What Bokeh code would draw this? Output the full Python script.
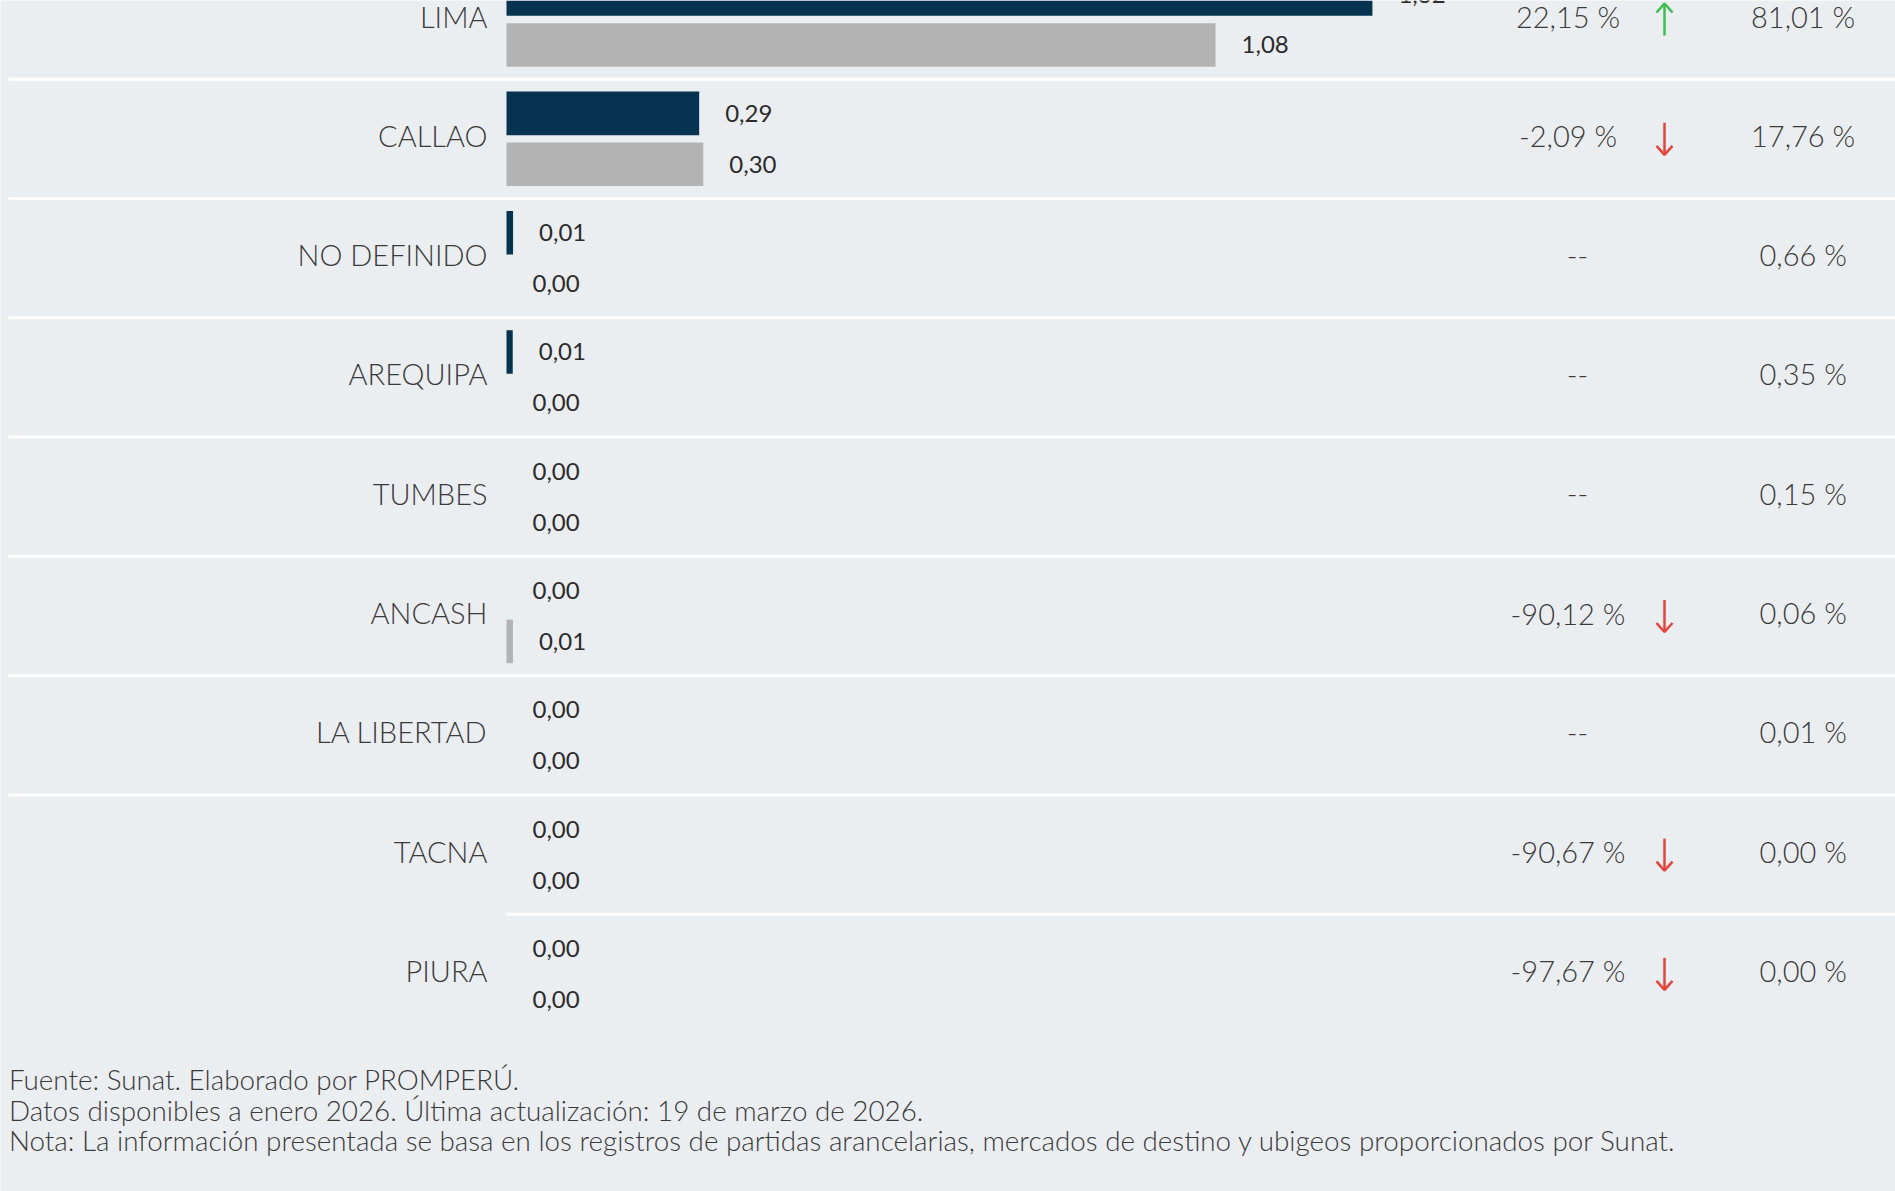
from bokeh.plotting import figure
from bokeh.models import Range1d, ColumnDataSource
from bokeh.transform import dodge
from bokeh.core.properties import value
from bokeh.embed import file_html
from bokeh.resources import INLINE

# ---------------- data ----------------
regions = ["LIMA", "CALLAO", "NO DEFINIDO", "AREQUIPA", "TUMBES",
           "ANCASH", "LA LIBERTAD", "TACNA", "PIURA"]
exports_2026 = [1.319, 0.2935, 0.0100, 0.0095, 0.0, 0.0, 0.0, 0.0, 0.0]
exports_2025 = [1.080, 0.2998, 0.0, 0.0, 0.0, 0.0098, 0.0, 0.0, 0.0]
growth_pct = [22.15, -2.09, None, None, None, -90.12, None, -90.67, -97.67]
share_pct = [81.01, 17.76, 0.66, 0.35, 0.15, 0.06, 0.01, 0.00, 0.00]
footer_lines = [
    "Fuente: Sunat. Elaborado por PROMPERÚ.",
    "Datos disponibles a enero 2026. Última actualización: 19 de marzo de 2026.",
    "Nota: La información presentada se basa en los registros de partidas arancelarias, mercados de destino y ubigeos proporcionados por Sunat.",
]

# ---------------- layout constants ----------------
W, H = 1895, 1191
PX_X = 656.5          # pixels per unit of value
ROW_PX = 119.3        # pixels per row
BAR_X0 = 506.0        # pixel position of value 0
ROW0_CENTER = 19.0    # pixel y of first row centre (page is scrolled)

BG = "#EBEEF1"
DARK = "#06334F"
GRAY = "#B3B3B3"
TXT = "#3a3a3a"
GREEN = "#3cbf4e"
RED = "#e5443b"
FONT_LIGHT = value("Lato Light")
FONT_REG = value("Lato")


def dx(px):
    return px / PX_X


def xpx(px):
    return (px - BAR_X0) / PX_X


def ypx(px):
    return (px - ROW0_CENTER) / ROW_PX


def fmt2(v):
    return f"{v:.2f}".replace(".", ",")


x_start = xpx(0)
x_end = xpx(W)
y_top = ypx(0)
y_bottom = ypx(H)

p = figure(width=W, height=H, x_range=Range1d(x_start, x_end),
           y_range=Range1d(y_bottom, y_top),
           output_backend="svg", toolbar_location=None,
           x_axis_type=None, y_axis_type=None, min_border=0)
p.grid.visible = False
p.outline_line_color = None
p.background_fill_color = BG
p.border_fill_color = BG

n = len(regions)
idx = list(range(n))

GROWTH_X = xpx(1567.5)
DASH_X = xpx(1577)

src = ColumnDataSource(dict(
    idx=idx,
    region=regions,
    v26=exports_2026,
    v25=exports_2025,
    l26=[fmt2(v) for v in exports_2026],
    l25=[fmt2(v) for v in exports_2025],
    growth=["--" if g is None else f"{g:.2f} %".replace(".", ",") for g in growth_pct],
    gx=[DASH_X if g is None else GROWTH_X for g in growth_pct],
    share=[f"{s:.2f} %".replace(".", ",") for s in share_pct],
))

OFF = 0.213
BAR_H = 0.365

# row separators
sep_y = [i + 0.5 for i in range(n - 1)]
sep_x0 = [xpx(8)] * (n - 2) + [0.0]
p.segment(x0=sep_x0, x1=[x_end] * len(sep_y), y0=sep_y, y1=sep_y,
          line_color="white", line_width=3)

# bars
p.hbar(y=dodge("idx", -OFF), left=0, right="v26", height=BAR_H,
       fill_color=DARK, line_color=None, source=src)
p.hbar(y=dodge("idx", OFF), left=0, right="v25", height=BAR_H,
       fill_color=GRAY, line_color=None, source=src)

# value labels
p.text(x="v26", y=dodge("idx", -OFF), text="l26", x_offset=26,
       text_baseline="middle", text_align="left", text_font=FONT_REG,
       text_font_size="24px", text_color="#2b2b2b", source=src)
p.text(x="v25", y=dodge("idx", OFF), text="l25", x_offset=26,
       text_baseline="middle", text_align="left", text_font=FONT_REG,
       text_font_size="24px", text_color="#2b2b2b", source=src)

# category labels
p.text(x=0, y="idx", text="region", x_offset=-19, y_offset=-3.5,
       text_baseline="middle", text_align="right", text_font=FONT_LIGHT,
       text_font_size="29px", text_color=TXT, source=src)

# growth column
p.text(x="gx", y="idx", text="growth", y_offset=-3,
       text_baseline="middle", text_align="center", text_font=FONT_LIGHT,
       text_font_size="29px", text_color=TXT, source=src)

# share column
p.text(x=xpx(1802.6), y="idx", text="share", y_offset=-3.5,
       text_baseline="middle", text_align="center", text_font=FONT_LIGHT,
       text_font_size="29px", text_color=TXT, source=src)

# arrows
ax = xpx(1664)
half = 16 / ROW_PX
hx = dx(8)
hy = 9 / ROW_PX
xs, ys, cols = [], [], []
for i, g in enumerate(growth_pct):
    if g is None:
        continue
    if g > 0:
        tip = i - half
        tail = i + half
        back = tip + hy
        c = GREEN
    else:
        tip = i + half
        tail = i - half
        back = tip - hy
        c = RED
    xs.append([ax, ax]); ys.append([tail, tip]); cols.append(c)
    xs.append([ax - hx, ax, ax + hx]); ys.append([back, tip, back]); cols.append(c)
p.multi_line(xs=xs, ys=ys, line_color=cols, line_width=2.5)

# footer
p.text(x=[xpx(8.5)] * len(footer_lines),
       y=[ypx(1079), ypx(1109.5), ypx(1139.7)],
       text=footer_lines, text_baseline="middle", text_align="left",
       text_font=FONT_LIGHT, text_font_size="27.8px", text_color=TXT)

open("out.html", "w").write(file_html(p, INLINE))
